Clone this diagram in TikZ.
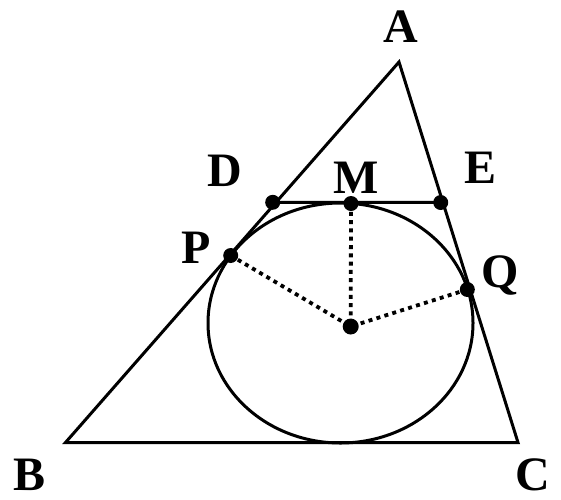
\documentclass[tikz,border=0pt]{standalone}
\usepackage{fontspec}
\setmainfont{Liberation Serif}
\begin{document}
\begin{tikzpicture}[x=1pt,y=-1pt,
  edge/.style={line width=3pt,line join=miter},
  dotline/.style={line width=3.8pt,dash pattern=on 4pt off 4.3pt},
  pt/.style={circle,fill=black,inner sep=0pt,minimum size=15pt},
  lbl/.style={inner sep=0pt,anchor=base,font=\fontsize{48}{56}\selectfont\bfseries}]
\useasboundingbox (0,0) rectangle (561,499);
\coordinate (A) at (399,62);
\coordinate (B) at (65.5,442.5);
\coordinate (C) at (518,442.5);
\draw[edge] (A) -- (B) -- (C) -- cycle;
\draw[line width=3pt] (340.5,323) ellipse [x radius=132.5, y radius=120];
\node[pt] (D) at (272.7,202.3) {};
\node[pt] (E) at (440.7,202.5) {};
\node[pt] (M) at (351,203.5) {};
\node[pt] (P) at (230.7,255.5) {};
\node[pt] (Q) at (467.3,289.5) {};
\node[pt,minimum size=16pt] (O) at (350.7,326.5) {};
\draw[line width=3pt] (D.center) -- (E.center);
\draw[dotline] (P.center) -- (O.center);
\draw[dotline] (M.center) -- (O.center);
\draw[dotline] (Q.center) -- (O.center);
\node[lbl] (lA) at (401,42) {A};
\node[lbl] (lB) at (30,490) {B};
\node[lbl] (lC) at (533,490) {C};
\node[lbl] (lD) at (225,186) {D};
\node[lbl] (lE) at (480,183) {E};
\node[lbl] (lM) at (356,193) {M};
\node[lbl] (lP) at (196,263) {P};
\node[lbl] (lQ) at (500.5,287) {Q};
\end{tikzpicture}
\end{document}
